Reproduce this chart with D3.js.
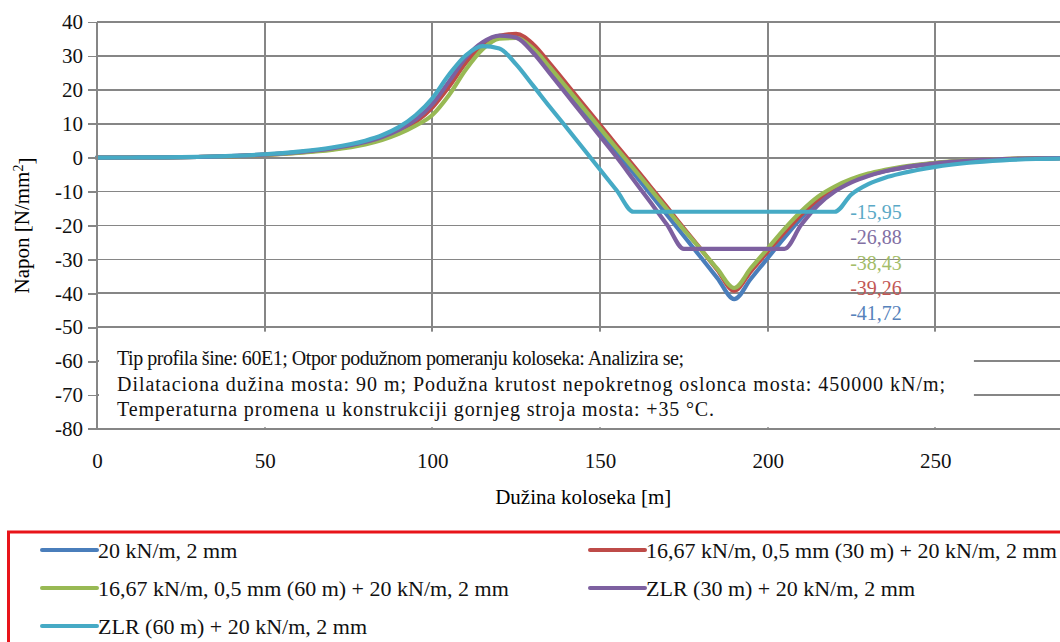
<!DOCTYPE html>
<html>
<head>
    <meta charset="utf-8">
    <style>
        body{
            margin: 0;
            background-color: #fff;
        }
        svg{
            display: block;
        }
        .grid line{
            stroke: #868686;
            stroke-width: 1.8px;
            shape-rendering: crispEdges;
        }
        .axis text{
            font-family: "Liberation Serif", serif;
            font-size: 21px;
            fill: #111;
        }
        .axis line, .axis path{
            stroke: #868686;
            stroke-width: 1.8px;
            shape-rendering: crispEdges;
        }
        .plotArea path{
            fill: none;
            stroke-width: 4.2px;
            stroke-linejoin: round;
            stroke-linecap: round;
        }
        .note text{
            font-family: "Liberation Serif", serif;
            font-size: 20px;
            fill: #111;
        }
        .legend text{
            font-family: "Liberation Serif", serif;
            font-size: 22px;
            fill: #111;
        }
        .vlabels text{
            font-family: "Liberation Serif", serif;
            font-size: 20px;
        }
    </style>
</head>
<body>
    <svg class="vis"></svg>

    <script src="https://cdn.jsdelivr.net/npm/d3@7/dist/d3.min.js"></script>
    <script>
        // track length [m]
        var xs = [0, 10, 20, 30, 40, 50, 60, 70, 80, 85, 90, 95, 100, 105, 110, 115, 120, 125,
                  130, 135, 140, 145, 150, 155, 160, 165, 170, 175, 180, 185, 190, 195, 200,
                  205, 210, 215, 220, 225, 230, 235, 240, 250, 260, 270, 280, 290, 300];

        // stress [N/mm2]
        var blue = [0, 0.05, 0.1, 0.2, 0.45, 0.9, 1.6, 2.7, 4.5, 6, 8, 11, 15.5, 22, 28.5, 33.2, 35.5, 35.9,
                    31.8, 25.9, 19.9, 13.8, 7.7, 1.6, -4.5, -10.7, -16.9, -23.1, -29.3, -35.5, -41.72, -35.7, -29.6,
                    -23.6, -17.8, -13, -9.5, -7, -5.2, -3.9, -3, -1.7, -0.9, -0.45, -0.2, -0.1, 0];
        var red = [0, 0.05, 0.1, 0.2, 0.4, 0.85, 1.5, 2.5, 4.2, 5.6, 7.5, 10.5, 14.8, 21, 28, 33.2, 35.9, 36.5,
                   33.5, 27.8, 21.8, 15.7, 9.7, 3.6, -2.4, -8.5, -14.6, -20.8, -26.9, -33.1, -39.26, -33.5, -27.7,
                   -22, -16.8, -12.3, -9, -6.7, -5, -3.8, -2.9, -1.6, -0.85, -0.4, -0.2, -0.1, 0];
        var green = [0, 0.05, 0.1, 0.2, 0.4, 0.8, 1.4, 2.3, 3.9, 5.2, 7, 9.4, 12.6, 18.5, 26, 32, 35.1, 35.3,
                     32.2, 26.7, 20.7, 14.7, 8.7, 2.7, -3.2, -9.2, -15.2, -21.2, -27, -32.8, -38.43, -32.6, -26.8,
                     -21, -15.8, -11.5, -8.5, -6.3, -4.7, -3.6, -2.7, -1.5, -0.8, -0.4, -0.2, -0.1, 0];
        var purple = [0, 0.05, 0.1, 0.2, 0.45, 0.9, 1.6, 2.7, 4.6, 6.1, 8.2, 11.2, 15.8, 22.5, 29.5, 34, 36, 35.4,
                      31, 24.9, 18.7, 12.5, 6.3, 0.1, -6.5, -13.1, -19.8, -26.88, -26.88, -26.88, -26.88, -26.88, -26.88,
                      -26.88, -19.8, -14, -10, -7.3, -5.4, -4, -3, -1.7, -0.9, -0.45, -0.2, -0.1, 0];
        var cyan = [0, 0.05, 0.1, 0.25, 0.5, 1, 1.8, 3, 5, 6.6, 9, 12.5, 17.5, 24.5, 30.2, 32.9, 32.2, 27.5,
                    21.3, 15, 8.9, 2.7, -3.5, -9.7, -15.95, -15.95, -15.95, -15.95, -15.95, -15.95, -15.95, -15.95, -15.95,
                    -15.95, -15.95, -15.95, -15.95, -10.8, -7.8, -5.9, -4.6, -2.7, -1.5, -0.8, -0.4, -0.2, 0];

        var seriesNames = ["20 kN/m, 2 mm",
                           "16,67 kN/m, 0,5 mm (30 m) + 20 kN/m, 2 mm",
                           "16,67 kN/m, 0,5 mm (60 m) + 20 kN/m, 2 mm",
                           "ZLR (30 m) + 20 kN/m, 2 mm",
                           "ZLR (60 m) + 20 kN/m, 2 mm"];
        var seriesColors = ["#4a7ebb", "#be4b48", "#98b954", "#7d60a0", "#46aac5"];
        var seriesValues = [blue, red, green, purple, cyan];

        var minLabels = ["-15,95", "-26,88", "-38,43", "-39,26", "-41,72"];
        var minLabelColors = ["#5aa9c6", "#8270a4", "#a3bd68", "#c25754", "#5682bb"];

        var xTicks = [0, 50, 100, 150, 200, 250];
        var xGrid = [50, 100, 150, 200, 250, 300];
        var yTicks = d3.range(40, -81, -10);

        var noteLines = ["Tip profila šine: 60E1; Otpor podužnom pomeranju koloseka: Analizira se;",
                         "Dilataciona dužina mosta: 90 m; Podužna krutost nepokretnog oslonca mosta: 450000 kN/m;",
                         "Temperaturna promena u konstrukciji gornjeg stroja mosta: +35 °C."];
        var noteWidths = [567, 828, 597];

        var width = 1060;
        var height = 642;

        var vis = d3.select("svg.vis")
                 .attr("width", width)
                 .attr("height", height);

        var x = d3.scaleLinear().domain([0, 300]).range([97, 1103]);
        var y = d3.scaleLinear().domain([40, -80]).range([22, 429]);

        // grid
        var grid = vis.append("g").attr("class", "grid");
        grid.selectAll("line.h")
            .data(yTicks.filter(d => d > -80))
            .enter().append("line")
            .attr("class", "h")
            .attr("x1", x(0)).attr("x2", x(300))
            .attr("y1", d => y(d)).attr("y2", d => y(d));
        grid.selectAll("line.v")
            .data(xGrid)
            .enter().append("line")
            .attr("class", "v")
            .attr("x1", d => x(d)).attr("x2", d => x(d))
            .attr("y1", y(40)).attr("y2", y(-80));

        // series
        var line = d3.line()
            .x((d, i) => x(xs[i]))
            .y(d => y(d))
            .curve(d3.curveMonotoneX);

        var plot = vis.append("g").attr("class", "plotArea");
        plot.selectAll("path")
            .data(seriesValues)
            .enter().append("path")
            .attr("stroke", (d, i) => seriesColors[i])
            .attr("d", line);

        // note box covering the lower part of the plot
        var note = vis.append("g").attr("class", "note");
        note.append("rect")
            .attr("x", x(0) + 2)
            .attr("y", y(-51.3))
            .attr("width", x(261.5) - x(0) - 2)
            .attr("height", y(-79.5) - y(-51.3))
            .attr("fill", "#fff");
        note.selectAll("text")
            .data(noteLines)
            .enter().append("text")
            .attr("x", 117)
            .attr("y", (d, i) => 358 + i * 25.5)
            .attr("dy", "0.35em")
            .attr("textLength", (d, i) => noteWidths[i])
            .attr("lengthAdjust", "spacing")
            .text(d => d);

        // axes
        var yAxis = vis.append("g")
            .attr("class", "axis")
            .attr("transform", "translate(" + x(0) + ",0)")
            .call(d3.axisLeft(y).tickValues(yTicks).tickSize(9).tickPadding(5).tickFormat(d => String(d)));
        yAxis.select(".domain").remove();
        yAxis.append("line")
            .attr("x1", 0).attr("x2", 0)
            .attr("y1", y(40)).attr("y2", y(-80));

        var xAxis = vis.append("g")
            .attr("class", "axis")
            .attr("transform", "translate(0," + y(-80) + ")")
            .call(d3.axisBottom(x).tickValues(xTicks).tickSize(0).tickPadding(24).tickFormat(d => String(d)));
        xAxis.select(".domain").remove();
        xAxis.append("line")
            .attr("x1", x(0) - 9).attr("x2", x(300))
            .attr("y1", 0).attr("y2", 0);

        vis.append("text")
            .attr("class", "title")
            .attr("x", x(145))
            .attr("y", 497)
            .attr("dy", "0.35em")
            .attr("text-anchor", "middle")
            .style("font-family", "Liberation Serif, serif")
            .style("font-size", "21px")
            .text("Dužina koloseka [m]");

        var yTitle = vis.append("text")
            .attr("transform", "translate(22," + y(-20) + ") rotate(-90)")
            .attr("text-anchor", "middle")
            .attr("dy", "0.35em")
            .style("font-family", "Liberation Serif, serif")
            .style("font-size", "21px");
        yTitle.append("tspan").text("Napon [N/mm");
        yTitle.append("tspan").attr("dy", "-0.45em").style("font-size", "14px").text("2");
        yTitle.append("tspan").attr("dy", "0.45em").text("]");

        // minimum value labels
        vis.append("g").attr("class", "vlabels")
            .selectAll("text")
            .data(minLabels)
            .enter().append("text")
            .attr("x", x(224.6))
            .attr("y", (d, i) => y(-15.95) + i * 25.4)
            .attr("dy", "0.35em")
            .attr("fill", (d, i) => minLabelColors[i])
            .text(d => d);

        // legend
        var legend = vis.append("g").attr("class", "legend");
        legend.append("rect")
            .attr("x", 8.5).attr("y", 532)
            .attr("width", 1100).attr("height", 140)
            .attr("fill", "#fff")
            .attr("stroke", "#e8141a")
            .attr("stroke-width", 3);

        var item = legend.selectAll("g.item")
            .data(seriesNames)
            .enter().append("g")
            .attr("class", "item")
            .attr("transform", (d, i) => "translate(" + (i % 2 ? 590 : 42) + "," + (550 + Math.floor(i / 2) * 38) + ")");
        item.append("line")
            .attr("x1", 0).attr("x2", 55)
            .attr("stroke", (d, i) => seriesColors[i])
            .attr("stroke-width", 4)
            .attr("stroke-linecap", "round");
        item.append("text")
            .attr("x", 56)
            .attr("dy", "0.35em")
            .text(d => d);
    </script>
</body>
</html>
